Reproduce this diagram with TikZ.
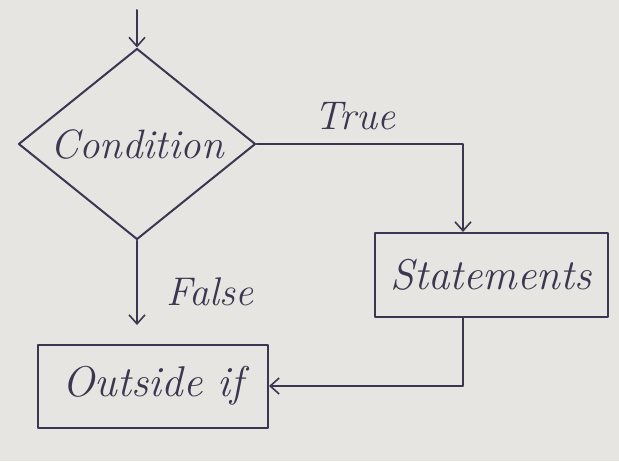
\documentclass[tikz,border=0pt]{standalone}
\usetikzlibrary{shapes.geometric,arrows.meta}
\definecolor{paper}{HTML}{E6E5E1}
\definecolor{ink}{HTML}{3B3750}
\begin{document}
\begin{tikzpicture}[x=1pt,y=-1pt,
  ink line/.style={draw=ink,line width=2pt,line join=round,line cap=round},
  arr/.style={ink line,-{Straight Barb[length=9pt,width=16pt,line width=1.6pt]}},
  lbl/.style={text=ink,font=\fontsize{40}{44}\selectfont\itshape},
  box/.style={ink line,rectangle,inner sep=0pt,text=ink,font=\fontsize{43}{46}\selectfont\itshape},
  decision/.style={ink line,diamond,aspect=1.25,inner sep=0pt,text=ink,font=\fontsize{41}{44}\selectfont\itshape}]
  % paper
  \fill[paper] (0,0) rectangle (619,461);
  \useasboundingbox (0,0) rectangle (619,461);

  % blocks
  \node[decision,minimum width=237pt,minimum height=191pt] (cond) at (137,144) {Condition};
  \node[box,minimum width=233pt,minimum height=84pt] (stmt) at (491,275) {Statements};
  \node[box,minimum width=230pt,minimum height=83pt] (out) at (153,386) {Outside if};

  % free ends
  \coordinate (entry) at (137,10);
  \coordinate (falseEnd) at (137,325);

  % connectors
  \draw[arr] (entry) -- (cond.north);
  \draw[arr] (cond.east) -| ([xshift=-28pt]stmt.north);
  \draw[arr] (cond.south) -- (falseEnd);
  \draw[arr] ([xshift=-28pt]stmt.south) |- (out.east);

  % branch labels
  \node[lbl] (tlab) at (355,116) {True};
  \node[lbl] (flab) at (210,292) {False};
\end{tikzpicture}
\end{document}
